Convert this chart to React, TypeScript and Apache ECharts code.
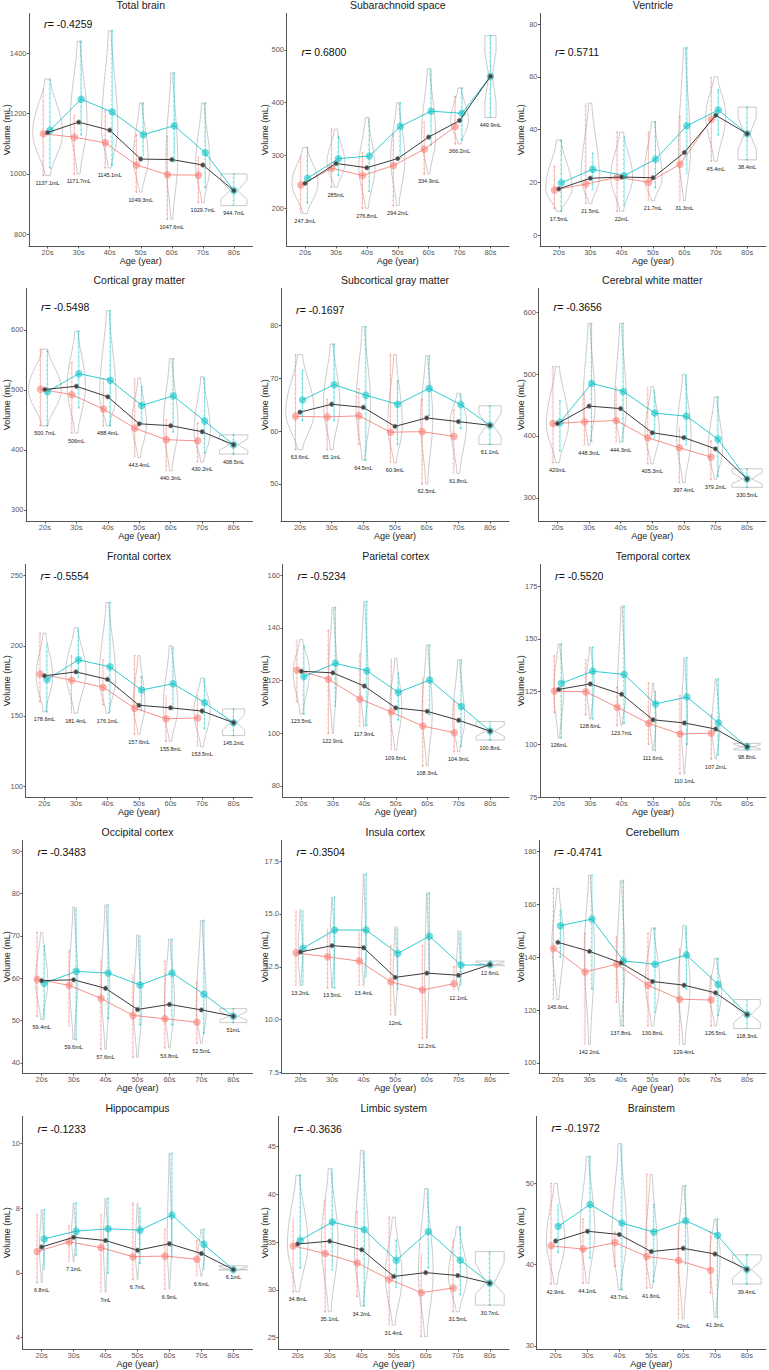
import React, { useEffect, useRef } from "react";
import * as echarts from "echarts";

const ageGroups = ["20s", "30s", "40s", "50s", "60s", "70s", "80s"];

const regions = [
  "Total brain", "Subarachnoid space", "Ventricle",
  "Cortical gray matter", "Subcortical gray matter", "Cerebral white matter",
  "Frontal cortex", "Parietal cortex", "Temporal cortex",
  "Occipital cortex", "Insula cortex", "Cerebellum",
  "Hippocampus", "Limbic system", "Brainstem",
];

const rValues = [
  "-0.4259", "0.6800", "0.5711",
  "-0.5498", "-0.1697", "-0.3656",
  "-0.5554", "-0.5234", "-0.5520",
  "-0.3483", "-0.3504", "-0.4741",
  "-0.1233", "-0.3636", "-0.1972",
];

// overall mean per age group (black line, also the mL labels)
const overallMean = [
  [1137.1, 1171.7, 1145.1, 1049.3, 1047.6, 1029.7, 944.7],
  [247.3, 285, 276.8, 294.2, 334.9, 366.2, 449.9],
  [17.5, 21.5, 22, 21.7, 31.3, 45.4, 38.4],
  [500.7, 506, 488.4, 443.4, 440.3, 430.2, 408.5],
  [63.6, 65.1, 64.5, 60.9, 62.5, 61.8, 61.1],
  [420, 448.3, 444.3, 405.3, 397.4, 379.2, 330.5],
  [178.6, 181.4, 176.1, 157.6, 155.8, 153.5, 145.2],
  [123.5, 122.9, 117.9, 109.6, 108.3, 104.9, 100.8],
  [126, 128.6, 123.7, 111.6, 110.1, 107.2, 98.8],
  [59.4, 59.6, 57.6, 52.6, 53.8, 52.5, 51],
  [13.2, 13.5, 13.4, 12, 12.2, 12.1, 12.6],
  [145.6, 142.2, 137.8, 130.8, 129.4, 126.5, 118.3],
  [6.8, 7.1, 7, 6.7, 6.9, 6.6, 6.1],
  [34.8, 35.1, 34.2, 31.4, 31.8, 31.5, 30.7],
  [42.9, 44.1, 43.7, 41.6, 42, 41.3, 39.4],
];

// female means (20s-70s)
const femaleMean = [
  [1133, 1122, 1103, 1030, 997, 996],
  [244, 276, 262, 281, 312, 355],
  [17.1, 19.3, 21.9, 20, 26.8, 43.9],
  [501, 492, 468, 436, 417, 415],
  [62.8, 62.7, 62.9, 59.8, 59.9, 59.0],
  [420, 423, 425, 397, 381, 366],
  [180, 175.5, 170.5, 155.5, 148, 148.5],
  [124, 120.5, 113, 108, 102.7, 100.2],
  [125.2, 124.9, 117.5, 109.9, 104.9, 105.2],
  [59.7, 58.3, 55.2, 51.2, 50.4, 49.6],
  [13.16, 12.97, 12.77, 11.79, 11.4, 11.7],
  [143.3, 134.4, 137.3, 129.4, 124.1, 123.8],
  [6.66, 6.96, 6.78, 6.5, 6.52, 6.42],
  [34.6, 33.8, 32.8, 31.1, 29.7, 30.2],
  [42.3, 41.9, 42.7, 41, 40.5, 39.3],
];

// female individual values: [min, max]
const femaleRange = [
  [[995, 1285], [1000, 1195], [1020, 1210], [940, 1130], [850, 1125], [905, 1060]],
  [[190, 300], [240, 350], [200, 305], [205, 340], [265, 365], [322, 412]],
  [[10, 26], [12, 50], [9, 39], [13, 39], [13, 45], [28, 60]],
  [[440, 568], [428, 545], [440, 520], [387, 520], [365, 450], [380, 445]],
  [[56.5, 74.5], [56.5, 66], [57.5, 68], [54, 74.5], [50, 66], [52, 64]],
  [[357, 512], [385, 470], [390, 480], [355, 480], [325, 415], [330, 392]],
  [[160, 209], [152, 193], [158, 190], [137, 193], [132, 165], [128, 165]],
  [[112, 135.6], [100, 139], [102.5, 130], [93.6, 128.4], [87.6, 121], [93, 112]],
  [[115, 142], [114, 140], [109, 127], [100, 129], [86, 123], [93, 114]],
  [[51, 70.8], [48.5, 66.5], [43.2, 64.5], [41.3, 61], [43.5, 64], [44.6, 59]],
  [[11.6, 15.1], [11.5, 14.3], [11.6, 14.2], [10.2, 13.5], [9.1, 13.5], [11.4, 12.5]],
  [[124, 166], [107, 149], [123, 148], [114, 149], [107, 143], [114, 133]],
  [[5.7, 7.8], [6.35, 7.45], [5.4, 7.8], [5.8, 8.15], [5.5, 7.35], [5.9, 7.0]],
  [[29.8, 37.5], [27.7, 39.5], [29.3, 38.2], [26.3, 37.6], [25.1, 33.8], [27.7, 35.4]],
  [[37.6, 50], [37.7, 45.6], [39.8, 44], [37.1, 51.1], [33.3, 44.7], [36.5, 44]],
];

// male means (20s-80s)
const maleMean = [
  [1145, 1248, 1205, 1130, 1160, 1070, 944.7],
  [257, 294, 299, 355, 384, 380, 449.9],
  [19.8, 24.9, 22.5, 28.7, 41.4, 47.4, 38.4],
  [497, 527, 516, 474, 490, 448, 408.5],
  [65.9, 68.8, 66.8, 65.1, 68.1, 65.0, 61.1],
  [422, 485, 472, 437, 432, 395, 330.5],
  [176, 190, 185, 168.5, 173, 159.5, 145.2],
  [121.5, 126.5, 123.7, 115.5, 120.2, 110.1, 100.8],
  [128.9, 134.6, 133.1, 119.1, 122.4, 110.2, 98.8],
  [58.8, 61.6, 61.2, 58.4, 61.2, 56.2, 51],
  [13.37, 14.24, 14.24, 13.13, 13.95, 12.58, 12.6],
  [151.9, 154.4, 138.6, 137.3, 140.8, 129.7, 118.3],
  [7.05, 7.29, 7.36, 7.32, 7.79, 6.88, 6.1],
  [35.2, 37.1, 36.3, 33.1, 36.1, 33.1, 30.7],
  [44.7, 47.4, 45.1, 44, 45.4, 43.6, 39.4],
];

// male individual values: [min, max]
const maleRange = [
  [[1020, 1315], [1130, 1440], [1030, 1475], [1060, 1235], [1040, 1335], [955, 1235], [895, 1000]],
  [[210, 315], [262, 335], [232, 372], [300, 400], [320, 465], [330, 428], [372, 527]],
  [[9, 36], [17, 31], [11, 37], [18, 43], [23, 71], [38, 55], [28.5, 48.5]],
  [[440, 565], [470, 598], [440, 632], [445, 505], [430, 552], [395, 522], [393, 425]],
  [[62, 71.5], [62, 76.5], [54.5, 79.8], [57.5, 69.5], [63, 74.3], [60.5, 67.2], [57.5, 64.8]],
  [[376, 457], [392, 582], [390, 582], [395, 475], [385, 500], [335, 463], [317, 347]],
  [[153, 202], [177, 213], [152, 231], [154, 178], [155, 200], [141, 177], [136, 155]],
  [[107.3, 133], [110, 147.7], [103, 150], [105, 123], [107, 133.5], [95, 127.8], [97.4, 104.4]],
  [[103, 147.5], [112, 146], [110, 165.5], [97, 125], [100, 141], [95, 131], [97.3, 100.4]],
  [[50.2, 67.5], [45.5, 76.8], [50.5, 77.3], [49, 70.2], [49, 69.2], [47, 73.6], [49.5, 52.8]],
  [[11.6, 15.2], [11.5, 15.8], [12, 16.9], [11.4, 14.4], [12.2, 16], [11.6, 14.2], [12.55, 12.77]],
  [[140, 158], [128, 171], [114, 169], [119, 151], [128, 152], [118, 139.5], [113, 124]],
  [[6.1, 7.95], [6.55, 8.15], [6.0, 8.3], [6.3, 8.0], [6.5, 9.7], [6.1, 7.35], [6.09, 6.22]],
  [[32.3, 42], [32, 42.7], [28.3, 44.6], [30.2, 35.2], [32.3, 40.6], [29.5, 36.6], [28.4, 34]],
  [[41.5, 47.5], [40.8, 53.3], [36.9, 54.9], [37.9, 47.4], [40, 49.7], [33.5, 45.6], [37.6, 41.2]],
];

// relative violin density (half-width, in age-group units)
const violinWidth = [
  [0.48, 0.27, 0.26, 0.24, 0.19, 0.23, 0.42],
  [0.42, 0.29, 0.26, 0.23, 0.23, 0.29, 0.18],
  [0.42, 0.29, 0.35, 0.29, 0.19, 0.32, 0.29],
  [0.52, 0.29, 0.26, 0.23, 0.23, 0.26, 0.45],
  [0.45, 0.26, 0.23, 0.23, 0.19, 0.26, 0.35],
  [0.35, 0.19, 0.19, 0.23, 0.23, 0.23, 0.48],
  [0.26, 0.32, 0.26, 0.19, 0.23, 0.26, 0.35],
  [0.26, 0.13, 0.13, 0.19, 0.16, 0.19, 0.45],
  [0.16, 0.13, 0.13, 0.1, 0.1, 0.13, 0.42],
  [0.19, 0.13, 0.13, 0.13, 0.16, 0.16, 0.42],
  [0.07, 0.07, 0.07, 0.07, 0.07, 0.07, 0.45],
  [0.19, 0.16, 0.13, 0.23, 0.19, 0.19, 0.42],
  [0.07, 0.07, 0.07, 0.07, 0.07, 0.1, 0.45],
  [0.32, 0.26, 0.23, 0.26, 0.23, 0.29, 0.45],
  [0.29, 0.23, 0.23, 0.19, 0.16, 0.16, 0.45],
];

// age groups whose mL label is not shown
const hiddenLabels = [[], [], [], [], [], [], [], [], [], [3], [], [], [], [4], []];

const yTicks = [
  [800, 1000, 1200, 1400],
  [200, 300, 400, 500],
  [0, 20, 40, 60, 80],
  [300, 400, 500, 600],
  [50, 60, 70, 80],
  [300, 400, 500, 600],
  [100, 150, 200, 250],
  [80, 100, 120, 140, 160],
  [75, 100, 125, 150, 175],
  [40, 50, 60, 70, 80, 90],
  [7.5, 10, 12.5, 15, 17.5],
  [100, 120, 140, 160, 180],
  [4, 6, 8, 10],
  [25, 30, 35, 40, 45],
  [30, 40, 50],
];

// ---- layout ----
const yRange = [
  [761, 1532], [128.6, 569], [-4.17, 84],
  [281.4, 669], [42.97, 87.03], [262.6, 638.4],
  [92.2, 258], [75.8, 164], [75, 185.2],
  [37.6, 92.5], [7.47, 18.48], [96.2, 184.1],
  [3.65, 10.83], [23.8, 48.16], [29.6, 58.23],
];
const titleY = [5, 280, 556, 832, 1108];
const gridLefts = [
  [29, 286.5, 540],
  [26, 281, 538.5],
  [25.5, 282.5, 540],
  [22.5, 281.5, 539],
  [22.5, 278.5, 536.5],
];
const gridRights = [252.5, 509, 766];
const yNameX = [6.5, 264.5, 520.5];
const rOffset = [10.5, 38, 38, 18, 21.5, 18, 11.5, 11.5, 11.5, 11, 11, 11, 12, 12, 11];

const FONT = '"Liberation Sans", Arial, Helvetica, sans-serif';
const FEMALE = "248,118,109";
const MALE = "0,191,196";
const FEMALE_DX = -0.14;
const MALE_DX = 0.08;

const fmtLabel = (v: number) => `${Math.round(v * 10) / 10}mL`;

function violinItem(_params: any, api: any) {
  const i = api.value(0);
  const lo = api.value(1);
  const hi = api.value(2);
  const pk = api.value(3);
  const w = api.value(4);
  const bow = api.value(5);
  const pLo = api.coord([i, lo]);
  const pHi = api.coord([i, hi]);
  const pPk = api.coord([i, pk]);
  const cx = pLo[0];
  const yLo = pLo[1];
  const yHi = pHi[1];
  const yPk = pPk[1];
  const hw = api.size([w, 0])[0];
  let pts: number[][] = [];
  if (bow) {
    const h = yLo - yHi;
    pts = [
      [cx - hw, yHi], [cx + hw, yHi], [cx + hw, yHi + 0.2 * h], [cx + 0.3 * hw, yPk],
      [cx + hw, yLo - 0.2 * h], [cx + hw, yLo], [cx - hw, yLo], [cx - hw, yLo - 0.2 * h],
      [cx - 0.3 * hw, yPk], [cx - hw, yHi + 0.2 * h],
    ];
  } else {
    const n = 36;
    const span = Math.max(1e-6, yLo - yHi);
    const tp = Math.min(0.85, Math.max(0.15, (yLo - yPk) / span));
    const right: number[][] = [];
    const left: number[][] = [];
    for (let k = 0; k <= n; k++) {
      const t = k / n;
      const s = t < tp ? (0.5 * t) / tp : 0.5 + (0.5 * (t - tp)) / (1 - tp);
      const ww = hw * (0.18 + 0.82 * Math.pow(Math.sin(Math.PI * s), 1.6));
      const y = yLo - t * span;
      right.push([cx + ww, y]);
      left.push([cx - ww, y]);
    }
    pts = right.concat(left.reverse());
  }
  return {
    type: "polygon",
    shape: { points: pts },
    style: { fill: "none", stroke: "#bcbcbc", lineWidth: 0.8 },
  };
}

function stripItem(_params: any, api: any) {
  const x = api.value(0);
  const lo = api.value(1);
  const hi = api.value(2);
  const col = api.value(3) === 0 ? FEMALE : MALE;
  const p0 = api.coord([x, lo]);
  const p1 = api.coord([x, hi]);
  return {
    type: "group",
    children: [
      {
        type: "line",
        shape: { x1: p0[0], y1: p0[1], x2: p1[0], y2: p1[1] },
        style: { stroke: `rgba(${col},0.5)`, lineWidth: 0.9 },
      },
      {
        type: "line",
        shape: { x1: p0[0] - 0.8, y1: p0[1], x2: p1[0] - 0.8, y2: p1[1] },
        style: { stroke: `rgba(${col},0.35)`, lineWidth: 1.3, lineDash: [1.2, 3.4] },
      },
      { type: "circle", shape: { cx: p0[0], cy: p0[1], r: 0.8 }, style: { fill: `rgba(${col},0.6)` } },
      { type: "circle", shape: { cx: p1[0], cy: p1[1], r: 0.8 }, style: { fill: `rgba(${col},0.6)` } },
    ],
  };
}

function buildOption() {
  const grid: any[] = [];
  const xAxis: any[] = [];
  const yAxis: any[] = [];
  const series: any[] = [];
  const graphic: any[] = [];

  for (let k = 0; k < regions.length; k++) {
    const row = Math.floor(k / 3);
    const col = k % 3;
    const left = gridLefts[row][col];
    const right = gridRights[col];
    const top = titleY[row] + 8.5;
    const bottom = titleY[row] + 241;
    grid.push({ left, top, width: right - left, height: bottom - top, containLabel: false });

    const axisLine = { show: true, onZero: false, lineStyle: { color: "#555", width: 1 } };
    xAxis.push({
      type: "value",
      gridIndex: k,
      min: -0.6,
      max: 6.6,
      axisLine,
      splitLine: { show: false },
      axisTick: { show: true, length: 2.5, customValues: [0, 1, 2, 3, 4, 5, 6], lineStyle: { color: "#555" } },
      axisLabel: {
        customValues: [0, 1, 2, 3, 4, 5, 6],
        formatter: (v: number) => ageGroups[Math.round(v)],
        fontSize: 7.5,
        color: "#5a5a5a",
        fontFamily: FONT,
        margin: 2.5,
      },
    });
    const ticks = yTicks[k];
    const dec = ticks.some((v) => !Number.isInteger(v)) ? 1 : 0;
    yAxis.push({
      type: "value",
      gridIndex: k,
      min: yRange[k][0],
      max: yRange[k][1],
      axisLine,
      splitLine: { show: false },
      axisTick: { show: true, length: 2, customValues: ticks, lineStyle: { color: "#555" } },
      axisLabel: {
        customValues: ticks,
        formatter: (v: number) => v.toFixed(dec),
        fontSize: 7.5,
        color: "#5a5a5a",
        fontFamily: FONT,
        margin: 2.5,
      },
    });

    const fm = femaleMean[k];
    const mm = maleMean[k];
    const om = overallMean[k];
    const fr = femaleRange[k];
    const mr = maleRange[k];

    // violins over all individuals of each age group
    const violinData = om.map((m, i) => {
      const lo = i < fr.length ? Math.min(fr[i][0], mr[i][0]) : mr[i][0];
      const hi = i < fr.length ? Math.max(fr[i][1], mr[i][1]) : mr[i][1];
      return [i, lo, hi, m, violinWidth[k][i], i < fr.length ? 0 : 1];
    });
    series.push({
      type: "custom",
      xAxisIndex: k,
      yAxisIndex: k,
      renderItem: violinItem,
      data: violinData,
      encode: { x: 0, y: [1, 2] },
      z: 1,
      silent: true,
    });

    const maleX = (i: number) => i + (i < fm.length ? MALE_DX : 0);
    const stripData: number[][] = [];
    fr.forEach((r, i) => stripData.push([i + FEMALE_DX, r[0], r[1], 0]));
    mr.forEach((r, i) => stripData.push([maleX(i), r[0], r[1], 1]));
    series.push({
      type: "custom",
      xAxisIndex: k,
      yAxisIndex: k,
      renderItem: stripItem,
      data: stripData,
      encode: { x: 0, y: [1, 2] },
      z: 2,
      silent: true,
    });

    series.push({
      type: "line",
      xAxisIndex: k,
      yAxisIndex: k,
      data: fm.map((v, i) => [i + FEMALE_DX, v]),
      symbol: "circle",
      symbolSize: 7.5,
      itemStyle: { color: `rgba(${FEMALE},0.55)` },
      lineStyle: { color: `rgba(${FEMALE},0.8)`, width: 1 },
      z: 3,
      silent: true,
    });
    series.push({
      type: "line",
      xAxisIndex: k,
      yAxisIndex: k,
      data: mm.map((v, i) => [maleX(i), v]),
      symbol: "circle",
      symbolSize: 7.5,
      itemStyle: { color: `rgba(${MALE},0.55)` },
      lineStyle: { color: `rgba(${MALE},0.8)`, width: 1 },
      z: 4,
      silent: true,
    });
    series.push({
      type: "line",
      xAxisIndex: k,
      yAxisIndex: k,
      data: om.map((v, i) => [i, v]),
      symbol: "circle",
      symbolSize: 4.5,
      itemStyle: { color: "#3a3a3a", borderColor: "#8a8a8a", borderWidth: 0.7, opacity: 0.9 },
      lineStyle: { color: "#3a3a3a", width: 1 },
      z: 5,
      silent: true,
    });

    // mL labels under each violin
    const labelTexts: string[] = [];
    const labelData: number[][] = [];
    violinData.forEach((d, i) => {
      if (hiddenLabels[k].includes(i)) return;
      labelTexts.push(fmtLabel(om[i]));
      labelData.push([i, d[1]]);
    });
    series.push({
      type: "custom",
      xAxisIndex: k,
      yAxisIndex: k,
      data: labelData,
      encode: { x: 0, y: 1 },
      z: 6,
      silent: true,
      renderItem: (params: any, api: any) => {
        const c = api.coord([api.value(0), api.value(1)]);
        return {
          type: "text",
          x: c[0],
          y: c[1] + 7.5,
          style: {
            text: labelTexts[params.dataIndex],
            align: "center",
            verticalAlign: "middle",
            fontSize: 5.5,
            fontFamily: FONT,
            fill: "#1a1a1a",
          },
        };
      },
    });

    // titles & annotations
    graphic.push({
      type: "text",
      x: (left + right) / 2,
      y: titleY[row],
      silent: true,
      style: { text: regions[k], align: "center", verticalAlign: "middle", fontSize: 10.5, fontFamily: FONT, fill: "#1a1a1a" },
    });
    graphic.push({
      type: "text",
      x: left + 15,
      y: top + rOffset[k],
      silent: true,
      style: {
        text: `{i|r}{n|= ${rValues[k]}}`,
        align: "left",
        verticalAlign: "middle",
        rich: {
          i: { fontStyle: "italic", fontSize: 11, fontFamily: FONT, fill: "#111" },
          n: { fontSize: 10.5, fontFamily: FONT, fill: "#111" },
        },
      },
    });
    graphic.push({
      type: "text",
      x: (left + right) / 2,
      y: bottom + 14.5,
      silent: true,
      style: { text: "Age (year)", align: "center", verticalAlign: "middle", fontSize: 9, fontFamily: FONT, fill: "#1a1a1a" },
    });
    graphic.push({
      type: "text",
      x: yNameX[col],
      y: (top + bottom) / 2,
      rotation: Math.PI / 2,
      silent: true,
      style: { text: "Volume (mL)", align: "center", verticalAlign: "middle", fontSize: 9, fontFamily: FONT, fill: "#1a1a1a" },
    });
  }

  return {
    animation: false,
    backgroundColor: "#ffffff",
    textStyle: { fontFamily: FONT },
    grid,
    xAxis,
    yAxis,
    series,
    graphic,
  };
}

export default function App() {
  const ref = useRef<HTMLDivElement>(null);
  useEffect(() => {
    if (!ref.current) return;
    const chart = echarts.init(ref.current, null, { renderer: "svg" });
    chart.setOption(buildOption() as any);
    return () => chart.dispose();
  }, []);
  return (
    <div
      ref={ref}
      style={{ position: "absolute", left: 0, top: 0, width: 769, height: 1370, background: "#fff" }}
    />
  );
}
